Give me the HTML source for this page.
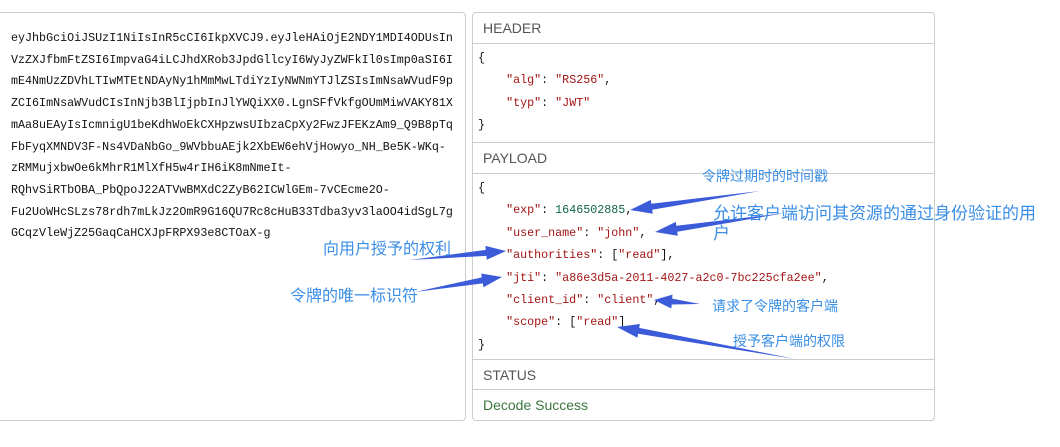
<!DOCTYPE html>
<html><head><meta charset="utf-8"><style>
body{margin:0;width:1060px;height:447px;background:#fff;position:relative;overflow:hidden;font-family:"Liberation Sans","Noto Sans CJK SC",sans-serif}
.lp{position:absolute;left:-5px;top:12px;width:469px;height:407px;border:1px solid #ccc;border-radius:4px}
.tok{position:absolute;left:11px;top:28px;font-family:"Liberation Mono",monospace;font-size:11.7px;line-height:21.7px;color:#111;white-space:pre}
.rp{position:absolute;left:472px;top:12px;width:461px;height:407px;border:1px solid #ccc;border-radius:4px}
.hd{position:absolute;left:0;width:461px;border-top:1px solid #ccc;color:#555;font-size:14px;padding-left:10px;box-sizing:border-box}
.js{position:absolute;font-family:"Liberation Mono",monospace;font-size:11.7px;color:#111;white-space:pre;line-height:22.4px}
.k{color:#a31515}.n{color:#116644}
.lb{position:absolute;color:#3a8ee6;font-size:15px;white-space:nowrap;font-family:"Liberation Sans","Noto Sans CJK SC",sans-serif}
svg{position:absolute;left:0;top:0}
</style></head><body>
<div class="lp"></div>
<div class="tok">eyJhbGciOiJSUzI1NiIsInR5cCI6IkpXVCJ9.eyJleHAiOjE2NDY1MDI4ODUsIn
VzZXJfbmFtZSI6ImpvaG4iLCJhdXRob3JpdGllcyI6WyJyZWFkIl0sImp0aSI6I
mE4NmUzZDVhLTIwMTEtNDAyNy1hMmMwLTdiYzIyNWNmYTJlZSIsImNsaWVudF9p
ZCI6ImNsaWVudCIsInNjb3BlIjpbInJlYWQiXX0.LgnSFfVkfgOUmMiwVAKY81X
mAa8uEAyIsIcmnigU1beKdhWoEkCXHpzwsUIbzaCpXy2FwzJFEKzAm9_Q9B8pTq
FbFyqXMNDV3F-Ns4VDaNbGo_9WVbbuAEjk2XbEW6ehVjHowyo_NH_Be5K-WKq-
zRMMujxbwOe6kMhrR1MlXfH5w4rIH6iK8mNmeIt-
RQhvSiRTbOBA_PbQpoJ22ATVwBMXdC2ZyB62ICWlGEm-7vCEcme2O-
Fu2UoWHcSLzs78rdh7mLkJz2OmR9G16QU7Rc8cHuB33Tdba3yv3laOO4idSgL7g
GCqzVleWjZ25GaqCaHCXJpFRPX93e8CTOaX-g</div>
<div class="rp">
<div class="hd" style="top:0;border-top:none;height:31px;line-height:30px">HEADER</div>
<div class="hd" style="top:30px;height:99px"></div>
<div class="hd" style="top:129px;height:31px;line-height:30px">PAYLOAD</div>
<div class="hd" style="top:160px;height:186px"></div>
<div class="hd" style="top:346px;height:31px;line-height:30px">STATUS</div>
<div class="hd" style="top:376px;height:31px;line-height:30px;color:#3c763d">Decode Success</div>
</div>
<div class="js" style="left:478px;top:47px">{
    <span class="k">"alg"</span>: <span class="k">"RS256"</span>,
    <span class="k">"typ"</span>: <span class="k">"JWT"</span>
}</div>
<div class="js" style="left:478px;top:177px">{
    <span class="k">"exp"</span>: <span class="n">1646502885</span>,
    <span class="k">"user_name"</span>: <span class="k">"john"</span>,
    <span class="k">"authorities"</span>: [<span class="k">"read"</span>],
    <span class="k">"jti"</span>: <span class="k">"a86e3d5a-2011-4027-a2c0-7bc225cfa2ee"</span>,
    <span class="k">"client_id"</span>: <span class="k">"client"</span>,
    <span class="k">"scope"</span>: [<span class="k">"read"</span>]
}</div>
<svg width="1060" height="447" id="s"></svg>
<div class="lb" style="left:702px;top:166px;font-size:14px">令牌过期时的时间戳</div>
<div class="lb" style="left:713px;top:199px;font-size:17px">允许客户端访问其资源的通过身份验证的用</div>
<div class="lb" style="left:713px;top:219px;font-size:17px">户</div>
<div class="lb" style="left:323px;top:235px;font-size:16px">向用户授予的权利</div>
<div class="lb" style="left:290px;top:282px;font-size:16px">令牌的唯一标识符</div>
<div class="lb" style="left:712px;top:296px;font-size:14px">请求了令牌的客户端</div>
<div class="lb" style="left:733px;top:331px;font-size:14px">授予客户端的权限</div>
<script>
var s=document.getElementById('s'),h='';
function ar(tx,ty,px,py,sw,hw,hl){var dx=px-tx,dy=py-ty,L=Math.hypot(dx,dy),ux=dx/L,uy=dy/L,nx=-uy,ny=ux;
var bx=px-ux*hl,by=py-uy*hl;
var p=[[tx,ty],[bx+nx*sw,by+ny*sw],[bx+nx*hw,by+ny*hw],[px,py],[bx-nx*hw,by-ny*hw],[bx-nx*sw,by-ny*sw]];
h+='<polygon fill="#3b5bd9" points="'+p.map(function(q){return q[0].toFixed(1)+','+q[1].toFixed(1)}).join(' ')+'"/>';}
ar(760,191,630,210,3,7,22);
ar(785,213,655,232,3,7,22);
ar(410,260,506,251,3,7,20);
ar(415,292,502,277,3,7,20);
ar(700,304,654,300,3,7,18);
ar(795,359,617,327,3,7,22);
s.innerHTML=h;
</script>
</body></html>
